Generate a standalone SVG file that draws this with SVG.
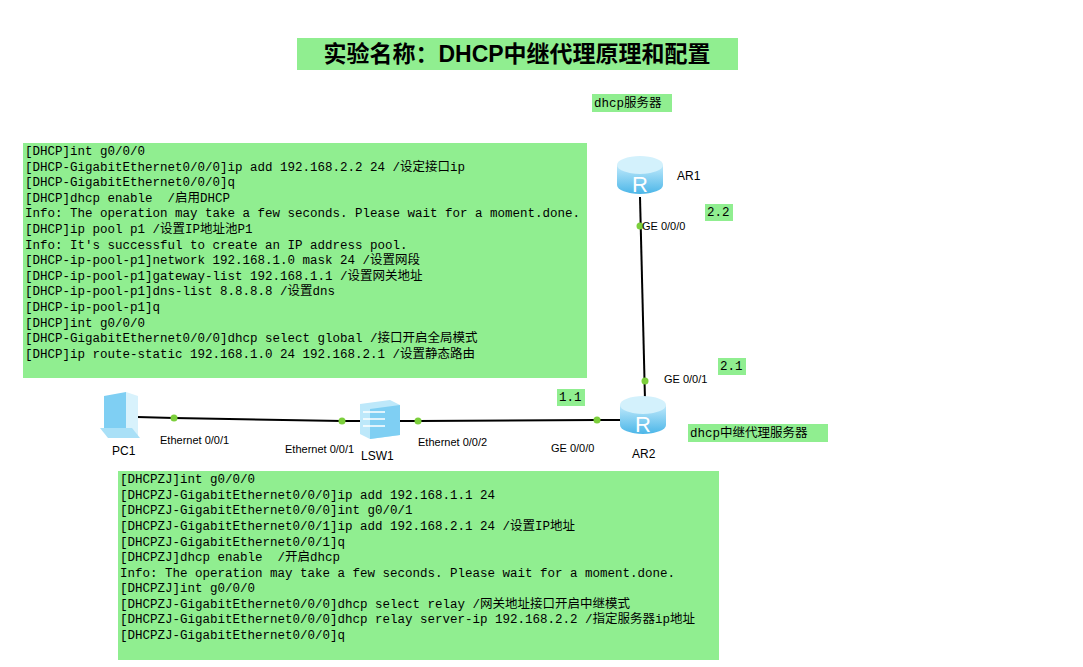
<svg xmlns="http://www.w3.org/2000/svg" width="1083" height="667" viewBox="0 0 1083 667">
<style>
.bg{fill:#90ee90}
.code{font-family:"Liberation Mono","Noto Sans CJK SC",monospace;font-size:12.5px;fill:#000;white-space:pre}
.lbl{font-family:"Liberation Sans",sans-serif;font-size:11px;fill:#000}
.nm{font-family:"Liberation Sans",sans-serif;font-size:12px;fill:#000}
.ln{stroke:#000;stroke-width:2;fill:none}
.pt{fill:#7ccf3c}
</style>
<defs>
<linearGradient id="rg" x1="0" y1="0" x2="0" y2="1"><stop offset="0" stop-color="#bfe9fb"/><stop offset="1" stop-color="#4cb6e8"/></linearGradient>
<g id="router"><path d="M-23,-9 v20 a23,9 0 0 0 46,0 v-20z" fill="url(#rg)"/><ellipse cx="0" cy="-9" rx="23" ry="9" fill="#d3f1fc"/><text x="0" y="18" text-anchor="middle" font-family="Liberation Sans,sans-serif" font-size="22" fill="#fff">R</text></g>
</defs>
<rect width="1083" height="667" fill="#fff"/>
<g id="title"><rect class="bg" x="297" y="38" width="441" height="32"/><text x="517" y="62" text-anchor="middle" font-family="Liberation Sans,'Noto Sans CJK SC',sans-serif" font-size="23" font-weight="600">实验名称：DHCP中继代理原理和配置</text></g>
<g id="connectors">
<path class="ln" d="M640,197 L645,400"/>
<path class="ln" d="M137,417 L174,418 L342,421 L360,421"/>
<path class="ln" d="M400,421 L418,421 L597,420 L622,420"/>
<circle class="pt" cx="640" cy="226" r="3.5"/><circle class="pt" cx="645" cy="381" r="3.5"/>
<circle class="pt" cx="174" cy="418" r="3.5"/><circle class="pt" cx="342" cy="421" r="3.5"/>
<circle class="pt" cx="418" cy="421" r="3.5"/><circle class="pt" cx="597" cy="420" r="3.5"/>
<text class="lbl" x="642" y="230">GE 0/0/0</text>
<text class="lbl" x="664" y="383">GE 0/0/1</text>
<text class="lbl" x="160" y="444">Ethernet 0/0/1</text>
<text class="lbl" x="285" y="453">Ethernet 0/0/1</text>
<text class="lbl" x="418" y="446">Ethernet 0/0/2</text>
<text class="lbl" x="551" y="452">GE 0/0/0</text>
</g>
<g id="AR1"><use href="#router" x="640" y="174"/><text class="nm" x="677" y="180">AR1</text></g>
<g id="AR2"><use href="#router" x="643" y="414"/><text class="nm" x="632" y="458">AR2</text></g>
<g id="PC1"><path d="M104,396 l22,-4 v36 l-22,4z" fill="#7fcff3"/><path d="M126,392 l12,4 v42 l-12,-4z" fill="#d8f2fc"/><path d="M100,428 l32,0 l8,10 l-32,0z" fill="#a9e0f7"/><text class="nm" x="112" y="455">PC1</text></g>
<g id="LSW1"><path d="M360,404 l30,-4 l10,5 v30 l-30,4 l-10,-5z" fill="#bde8fa"/><path d="M370,409 l30,-4 v30 l-30,4z" fill="#7fcff3"/><path d="M363,412 h22 M363,419 h22 M363,426 h22" stroke="#fff" stroke-width="1.5"/><text class="nm" x="361" y="460">LSW1</text></g>
<g id="labels">
<rect class="bg" x="592" y="94" width="80" height="18"/><text class="code" x="594" y="107">dhcp服务器</text>
<rect class="bg" x="705" y="204" width="28" height="17"/><text class="code" x="707" y="216">2.2</text>
<rect class="bg" x="718" y="358" width="28" height="17"/><text class="code" x="720" y="370">2.1</text>
<rect class="bg" x="557" y="389" width="28" height="17"/><text class="code" x="559" y="401">1.1</text>
<rect class="bg" x="688" y="424" width="140" height="18"/><text class="code" x="690" y="437">dhcp中继代理服务器</text>
</g>
<g id="dhcp-config"><rect class="bg" x="23" y="143" width="564" height="235"/>
<text class="code" x="25" y="155">[DHCP]int g0/0/0</text>
<text class="code" x="25" y="171">[DHCP-GigabitEthernet0/0/0]ip add 192.168.2.2 24 /设定接口ip</text>
<text class="code" x="25" y="186">[DHCP-GigabitEthernet0/0/0]q</text>
<text class="code" x="25" y="202" xml:space="preserve">[DHCP]dhcp enable  /启用DHCP</text>
<text class="code" x="25" y="217">Info: The operation may take a few seconds. Please wait for a moment.done.</text>
<text class="code" x="25" y="233">[DHCP]ip pool p1 /设置IP地址池P1</text>
<text class="code" x="25" y="249">Info: It's successful to create an IP address pool.</text>
<text class="code" x="25" y="264">[DHCP-ip-pool-p1]network 192.168.1.0 mask 24 /设置网段</text>
<text class="code" x="25" y="280">[DHCP-ip-pool-p1]gateway-list 192.168.1.1 /设置网关地址</text>
<text class="code" x="25" y="295">[DHCP-ip-pool-p1]dns-list 8.8.8.8 /设置dns</text>
<text class="code" x="25" y="311">[DHCP-ip-pool-p1]q</text>
<text class="code" x="25" y="327">[DHCP]int g0/0/0</text>
<text class="code" x="25" y="342">[DHCP-GigabitEthernet0/0/0]dhcp select global /接口开启全局模式</text>
<text class="code" x="25" y="358">[DHCP]ip route-static 192.168.1.0 24 192.168.2.1 /设置静态路由</text>
</g>
<g id="relay-config"><rect class="bg" x="118" y="471" width="601" height="189"/>
<text class="code" x="120" y="483">[DHCPZJ]int g0/0/0</text>
<text class="code" x="120" y="499">[DHCPZJ-GigabitEthernet0/0/0]ip add 192.168.1.1 24</text>
<text class="code" x="120" y="514">[DHCPZJ-GigabitEthernet0/0/0]int g0/0/1</text>
<text class="code" x="120" y="530">[DHCPZJ-GigabitEthernet0/0/1]ip add 192.168.2.1 24 /设置IP地址</text>
<text class="code" x="120" y="546">[DHCPZJ-GigabitEthernet0/0/1]q</text>
<text class="code" x="120" y="561" xml:space="preserve">[DHCPZJ]dhcp enable  /开启dhcp</text>
<text class="code" x="120" y="577">Info: The operation may take a few seconds. Please wait for a moment.done.</text>
<text class="code" x="120" y="592">[DHCPZJ]int g0/0/0</text>
<text class="code" x="120" y="608">[DHCPZJ-GigabitEthernet0/0/0]dhcp select relay /网关地址接口开启中继模式</text>
<text class="code" x="120" y="623">[DHCPZJ-GigabitEthernet0/0/0]dhcp relay server-ip 192.168.2.2 /指定服务器ip地址</text>
<text class="code" x="120" y="639">[DHCPZJ-GigabitEthernet0/0/0]q</text>
</g>
</svg>
